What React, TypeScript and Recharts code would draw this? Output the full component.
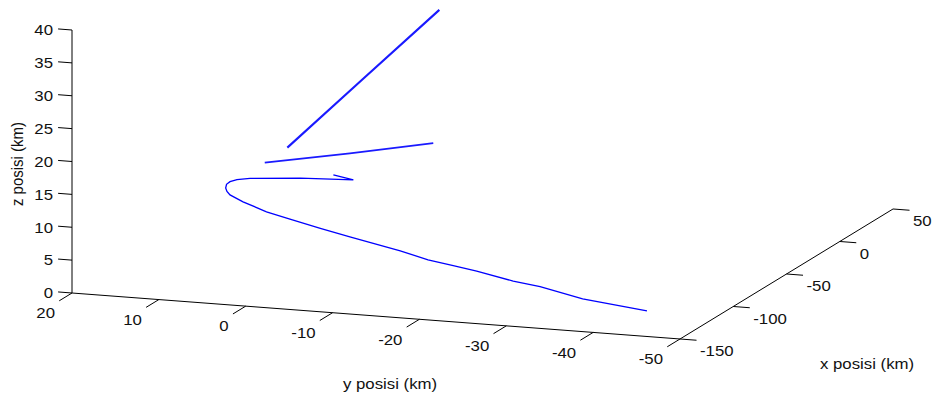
import React from "react";
import { ScatterChart, Scatter, XAxis, YAxis } from "recharts";

const W = 932;
const H = 394;

const lowX = [-115, -115, -115, -115, -115, -115, -115, -115, -115, -115, -115, -115, -115, -115, -115, -115, -115, -115, -115, -115, -115, -115, -115];
const lowY = [-41.9, -34.5, -29.6, -26.5, -22.3, -19.6, -16.7, -13.5, -7.7, -4.3, -0.8, 1.9, 4.6, 6.1, 6.45, 6.6, 6.5, 6.1, 5.3, 3.8, -2.0, -8.1, -5.8];
const lowZ = [0, 1.1, 2.45, 3.0, 4.1, 4.65, 5.25, 6.3, 7.85, 8.8, 9.85, 10.7, 11.95, 12.85, 13.33, 13.85, 14.42, 14.86, 15.26, 15.6, 16.2, 16.55, 17.1];

const midX = [-115, -115, -115];
const midY = [2.1, -7.7, -17.3];
const midZ = [18.15, 20.55, 23.05];

const highX = [-115, -115, -115];
const highY = [-0.5, -9.2, -18.0];
const highZ = [20.7, 32.0, 43.4];

const xTicks = [-150, -100, -50, 0, 50];
const yTicks = [20, 10, 0, -10, -20, -30, -40, -50];
const zTicks = [0, 5, 10, 15, 20, 25, 30, 35, 40];

const X_MIN = -150;
const X_MAX = 50;
const Y_MIN = -50;
const Y_MAX = 20;
const Z_MAX = 40;

// orthographic view, screen px per km
function proj(x: number, y: number, z: number) {
  return {
    sx: 72 + 1.065 * (x - X_MIN) - 8.686 * (y - Y_MAX),
    sy: 293 - 0.65 * (x - X_MIN) - 0.657 * (y - Y_MAX) - 6.575 * z,
  };
}

const track = (xs: number[], ys: number[], zs: number[]) =>
  xs.map((x, i) => proj(x, ys[i], zs[i]));

const FONT = "'Liberation Sans', Arial, Helvetica, sans-serif";
const STRETCH = 1.12;
const FS = 15;

const zAxisLine = [proj(X_MIN, Y_MAX, 0), proj(X_MIN, Y_MAX, Z_MAX)];
const yAxisLine = [proj(X_MIN, Y_MAX, 0), proj(X_MIN, Y_MIN, 0)];
const xAxisLine = [proj(X_MIN, Y_MIN, 0), proj(X_MAX, Y_MIN, 0)];

const tickRows = (
  vals: number[],
  at: (v: number) => [number, number, number],
  end: (v: number) => [number, number, number],
) =>
  vals.map((v) => {
    const p = proj(...at(v));
    const e = proj(...end(v));
    return { sx: p.sx, sy: p.sy, tx: e.sx - p.sx, ty: e.sy - p.sy, label: String(v) };
  });

const zTickRows = tickRows(zTicks, (z) => [X_MIN, Y_MAX, z], (z) => [X_MIN, Y_MAX + 1.6, z]);
const yTickRows = tickRows(yTicks, (y) => [X_MIN, y, 0], (y) => [X_MIN - 12, y, 0]);
const xTickRows = tickRows(xTicks, (x) => [x, Y_MIN, 0], (x) => [x, Y_MIN - 1.9, 0]);

const noDot = () => <g />;

function makeTick(lx: number, ly: number, anchor: "start" | "end") {
  return (props: any) => {
    const { cx, cy, payload } = props;
    return (
      <g>
        <line x1={cx} y1={cy} x2={cx + payload.tx} y2={cy + payload.ty} stroke="#000" strokeWidth={1} />
        <text
          transform={`translate(${cx + lx},${cy + ly}) scale(${STRETCH},1)`}
          textAnchor={anchor}
          dy="0.35em"
          fontSize={FS}
          fontFamily={FONT}
          fill="#111"
        >
          {payload.label}
        </text>
      </g>
    );
  };
}

const zTick = makeTick(-19, 0, "end");
const yTick = makeTick(-17, 20, "end");
const xTick = makeTick(20, 12, "start");

const axisLine = { stroke: "#000", strokeWidth: 1 };

export default function App() {
  return (
    <div style={{ position: "absolute", left: 0, top: 0, width: W, height: H, background: "#fff" }}>
      <ScatterChart width={W} height={H} margin={{ top: 0, right: 0, bottom: 0, left: 0 }}>
        <XAxis type="number" dataKey="sx" domain={[0, W]} allowDataOverflow hide />
        <YAxis type="number" dataKey="sy" domain={[0, H]} allowDataOverflow reversed hide />
        <Scatter data={zAxisLine} line={axisLine} shape={noDot} isAnimationActive={false} />
        <Scatter data={yAxisLine} line={axisLine} shape={noDot} isAnimationActive={false} />
        <Scatter data={xAxisLine} line={axisLine} shape={noDot} isAnimationActive={false} />
        <Scatter data={zTickRows} shape={zTick} isAnimationActive={false} />
        <Scatter data={yTickRows} shape={yTick} isAnimationActive={false} />
        <Scatter data={xTickRows} shape={xTick} isAnimationActive={false} />
        <Scatter
          data={track(lowX, lowY, lowZ)}
          line={{ stroke: "#0000ff", strokeWidth: 1.3 }}
          shape={noDot}
          isAnimationActive={false}
        />
        <Scatter
          data={track(midX, midY, midZ)}
          line={{ stroke: "#1a1aff", strokeWidth: 1.8 }}
          shape={noDot}
          isAnimationActive={false}
        />
        <Scatter
          data={track(highX, highY, highZ)}
          line={{ stroke: "#1a1aff", strokeWidth: 2.1 }}
          shape={noDot}
          isAnimationActive={false}
        />
      </ScatterChart>
      <svg width={W} height={H} style={{ position: "absolute", left: 0, top: 0, pointerEvents: "none" }}>
        <g fontFamily={FONT} fontSize={FS} fill="#111" textAnchor="middle">
          <text transform={`translate(17,164) scale(${STRETCH},1) rotate(-90)`} dy="0.35em">z posisi (km)</text>
          <text transform={`translate(390,384) scale(${STRETCH},1)`} dy="0.35em">y posisi (km)</text>
          <text transform={`translate(867,364) scale(${STRETCH},1)`} dy="0.35em">x posisi (km)</text>
        </g>
      </svg>
    </div>
  );
}
